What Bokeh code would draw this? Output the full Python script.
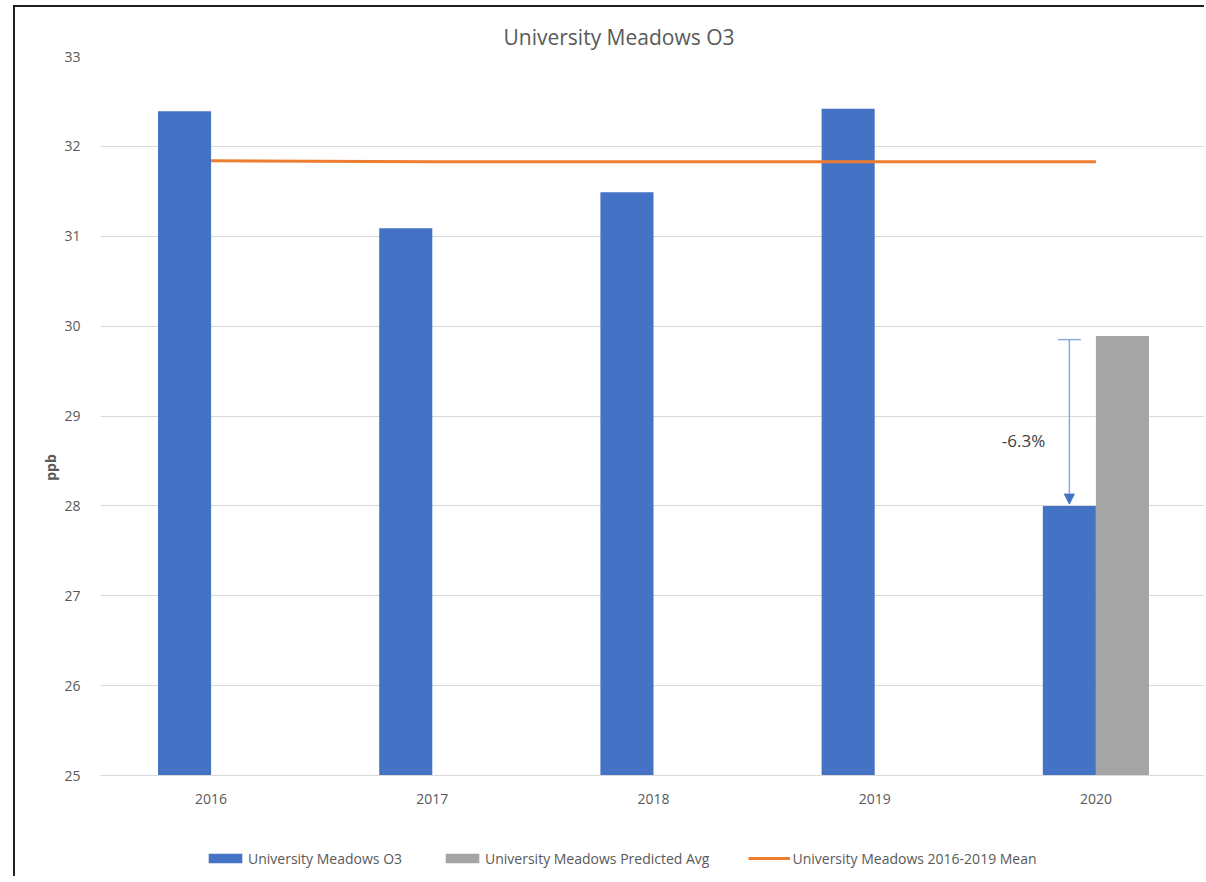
import numpy as np
from bokeh.plotting import figure
from bokeh.models import (Range1d, FixedTicker, Label, Legend, LegendItem, Arrow,
                          NormalHead, ColumnDataSource, LinearAxis)
from bokeh.embed import file_html
from bokeh.resources import INLINE

# ---- data ----
years = ["2016", "2017", "2018", "2019", "2020"]
o3_values = [32.39, 31.09, 31.49, 32.42, 28.00]
predicted_years = ["2020"]
predicted_values = [29.89]
mean_values = [31.84, 31.83, 31.83, 31.83, 31.83]
y_ticks = [25, 26, 27, 28, 29, 30, 31, 32, 33]
change_label = "-6.3%"
change_from = 29.85
change_to = 28.02

FONT = "Open Sans"
GREY_TXT = "#595959"
BLUE = "#4472c4"
GREY = "#a5a5a5"
ORANGE = "#ed7d31"

idx = np.arange(len(years))
pidx = np.array([years.index(y) for y in predicted_years])

# frame runs below the value axis to leave room for the legend inside it
p = figure(width=1191, height=871, output_backend="svg", toolbar_location=None,
           x_range=Range1d(-0.5, 4.5), y_range=Range1d(23.854, 33),
           x_axis_location=None,
           min_border_left=85, min_border_right=0, min_border_top=49,
           min_border_bottom=0, background_fill_color="white",
           border_fill_color="white")
p.outline_line_color = None
p.styles = {"border-left": "2px solid #1f1f1f", "border-top": "2px solid #1f1f1f",
            "border-right": "none", "border-bottom": "none",
            "outline": "none", "box-shadow": "none",
            "margin": "5px 0px 0px 13px"}

# title
p.title.text = "University Meadows O3"
p.title.align = "left"
p.title.offset = 403
p.title.text_font = FONT
p.title.text_font_size = "21px"
p.title.text_font_style = "normal"
p.title.text_color = GREY_TXT
p.title.standoff = 12

src_o3 = ColumnDataSource(dict(x=idx - 0.12, top=o3_values))
src_pr = ColumnDataSource(dict(x=pidx + 0.12, top=predicted_values))
src_mean = ColumnDataSource(dict(x=idx, y=mean_values))

r_o3 = p.vbar(x="x", top="top", bottom=y_ticks[0], width=0.24, source=src_o3,
              fill_color=BLUE, line_color=None)
r_pr = p.vbar(x="x", top="top", bottom=y_ticks[0], width=0.24, source=src_pr,
              fill_color=GREY, line_color=None)
r_mean = p.line(x="x", y="y", source=src_mean, line_color=ORANGE, line_width=3)

# category axis drawn at the value-axis minimum
xaxis = LinearAxis(fixed_location=y_ticks[0])
xaxis.ticker = FixedTicker(ticks=list(idx))
xaxis.major_label_overrides = {int(i): y for i, y in zip(idx, years)}
xaxis.axis_line_color = "#d9d9d9"
xaxis.major_tick_line_color = None
xaxis.minor_tick_line_color = None
xaxis.major_label_standoff = 12
xaxis.major_label_text_font = FONT
xaxis.major_label_text_font_size = "14px"
xaxis.major_label_text_color = GREY_TXT
p.add_layout(xaxis, "below")

p.yaxis.ticker = FixedTicker(ticks=y_ticks)
p.yaxis.axis_line_color = None
p.yaxis.major_tick_line_color = None
p.yaxis.minor_tick_line_color = None
p.yaxis.major_label_standoff = 14
p.yaxis.major_label_text_font = FONT
p.yaxis.major_label_text_font_size = "14px"
p.yaxis.major_label_text_color = GREY_TXT
p.yaxis.axis_label = "ppb"
p.yaxis.axis_label_standoff = 1
p.yaxis.axis_label_text_font = FONT
p.yaxis.axis_label_text_font_size = "14px"
p.yaxis.axis_label_text_font_style = "bold"
p.yaxis.axis_label_text_color = GREY_TXT

p.xgrid.grid_line_color = None
p.ygrid.grid_line_color = "#d9d9d9"
p.ygrid.grid_line_width = 1

# change annotation
ax = pidx[0] - 0.12
p.segment(x0=[ax - 0.052], x1=[ax + 0.052], y0=[change_from], y1=[change_from],
          line_color="#8faadc", line_width=1.5)
p.add_layout(Arrow(x_start=ax, y_start=change_from, x_end=ax, y_end=change_to,
                   line_color="#8faadc", line_width=1.5,
                   end=NormalHead(size=10, fill_color=BLUE, line_color=BLUE)))
p.add_layout(Label(x=3.673, y=28.73, text=change_label, text_align="center",
                   text_baseline="middle", text_font=FONT, text_font_size="17px",
                   text_color="#404040"))

# legend at the bottom of the chart
legend = Legend(items=[LegendItem(label="University Meadows O3", renderers=[r_o3]),
                       LegendItem(label="University Meadows Predicted Avg", renderers=[r_pr]),
                       LegendItem(label="University Meadows 2016-2019 Mean", renderers=[r_mean])],
                location=(104, 10), orientation="horizontal",
                glyph_width=42, glyph_height=12, label_standoff=2, spacing=39,
                padding=0, margin=0, border_line_color=None,
                background_fill_alpha=0, label_text_font=FONT,
                label_text_font_size="14px", label_text_color=GREY_TXT,
                label_height=20)
p.add_layout(legend, "center")

open("out.html", "w").write(file_html(p, INLINE))
